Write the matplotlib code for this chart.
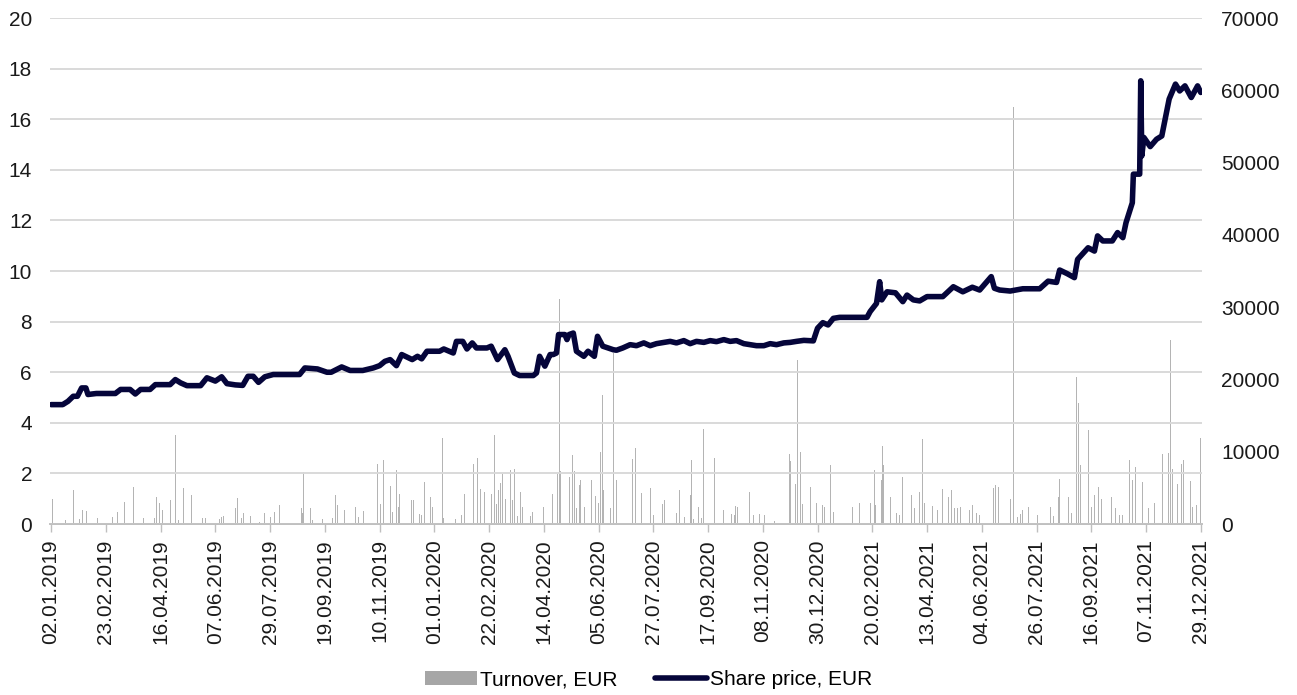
import matplotlib
matplotlib.use("Agg")
import matplotlib.pyplot as plt
import matplotlib.dates as mdates
import pandas as pd

plt.rcParams['font.family'] = ['Liberation Sans', 'DejaVu Sans']

start = pd.Timestamp('2019-01-02')

# share price, EUR (days after 02.01.2019, value)
price_days = [0, 11, 16, 21, 25, 29, 33, 35, 43, 61, 66, 75, 80, 85, 94, 99, 113, 118, 123, 129,
              142, 148, 156, 162, 167, 175, 182, 187, 192, 197, 203, 211, 236, 241, 253, 262, 266,
              276, 284, 296, 306, 312, 317, 322, 328, 333, 343, 348, 352, 357, 369, 373, 382, 385,
              391, 395, 400, 404, 414, 418, 424, 431, 434, 440, 445, 458, 461, 464, 469, 474, 477,
              480, 482, 488, 490, 492, 496, 499, 506, 510, 516, 519, 524, 534, 537, 543, 550, 556,
              563, 569, 575, 582, 588, 594, 601, 607, 613, 620, 626, 632, 639, 645, 651, 658, 664,
              670, 677, 683, 689, 696, 702, 708, 715, 724, 728, 733, 738, 743, 749, 775, 778, 784,
              787, 789, 794, 802, 809, 813, 819, 825, 832, 847, 857, 866, 875, 882, 893, 896, 901,
              911, 923, 939, 947, 955, 958, 965, 972, 975, 985, 991, 994, 999, 1008, 1013, 1018,
              1021, 1027, 1028, 1034, 1035, 1036, 1038, 1044, 1050, 1055, 1062, 1066, 1068, 1072,
              1077, 1083, 1089, 1092]
price = [4.72, 4.72, 4.85, 5.05, 5.05, 5.38, 5.38, 5.12, 5.16, 5.16, 5.32, 5.32, 5.14, 5.32, 5.32,
         5.51, 5.51, 5.71, 5.58, 5.47, 5.47, 5.78, 5.65, 5.82, 5.55, 5.50, 5.48, 5.84, 5.84, 5.60,
         5.82, 5.91, 5.91, 6.17, 6.13, 6.00, 6.00, 6.21, 6.07, 6.07, 6.17, 6.26, 6.43, 6.50, 6.26,
         6.70, 6.50, 6.63, 6.53, 6.83, 6.83, 6.92, 6.76, 7.22, 7.22, 6.92, 7.16, 6.96, 6.96, 7.03,
         6.50, 6.89, 6.63, 5.97, 5.87, 5.87, 5.97, 6.63, 6.24, 6.70, 6.70, 6.76, 7.49, 7.49, 7.29,
         7.49, 7.55, 6.83, 6.63, 6.83, 6.63, 7.42, 7.03, 6.89, 6.87, 6.96, 7.09, 7.05, 7.16, 7.05,
         7.13, 7.18, 7.22, 7.16, 7.25, 7.13, 7.22, 7.18, 7.25, 7.21, 7.29, 7.22, 7.25, 7.13, 7.09,
         7.05, 7.05, 7.13, 7.09, 7.16, 7.18, 7.22, 7.26, 7.24, 7.74, 7.96, 7.87, 8.13, 8.17, 8.17,
         8.40, 8.72, 9.58, 8.86, 9.18, 9.14, 8.79, 9.05, 8.86, 8.82, 8.99, 8.99, 9.38, 9.18, 9.36,
         9.25, 9.78, 9.32, 9.25, 9.21, 9.30, 9.30, 9.60, 9.55, 10.04, 9.90, 9.74, 10.46, 10.92,
         10.79, 11.39, 11.19, 11.19, 11.52, 11.32, 11.91, 12.70, 13.83, 13.83, 17.52, 14.55, 15.28,
         14.92, 15.21, 15.34, 16.80, 17.19, 17.39, 17.12, 17.32, 16.86, 17.32, 17.06]

# turnover, EUR (days after 02.01.2019, value)
turn_days = [1, 14, 21, 27, 30, 34, 36, 44, 58, 63, 70, 75, 78, 88, 93, 98, 100, 103, 106, 113,
             118, 121, 126, 129, 133, 144, 147, 149, 160, 162, 164, 169, 175, 177, 181, 183, 189,
             198, 203, 205, 208, 212, 217, 224, 226, 238, 239, 240, 246, 248, 258, 267, 270, 272,
             279, 289, 292, 297, 300, 310, 313, 316, 320, 322, 324, 328, 330, 331, 342, 344, 350,
             352, 355, 360, 362, 372, 373, 377, 384, 390, 393, 397, 401, 405, 408, 412, 418, 421,
             423, 425, 427, 429, 432, 434, 436, 438, 440, 443, 446, 448, 455, 457, 468, 476, 481,
             483, 484, 490, 492, 495, 497, 499, 502, 503, 507, 513, 517, 520, 522, 524, 525, 531,
             534, 537, 546, 548, 552, 555, 561, 565, 566, 569, 572, 581, 583, 594, 597, 602, 607,
             608, 610, 615, 618, 620, 623, 630, 639, 646, 649, 650, 652, 663, 667, 673, 678, 681,
             687, 699, 701, 702, 707, 709, 712, 714, 719, 721, 727, 733, 735, 736, 740, 743, 756,
             761, 768, 776, 778, 782, 783, 789, 790, 791, 797, 803, 806, 809, 812, 817, 820, 825,
             828, 830, 833, 837, 842, 847, 851, 852, 855, 858, 861, 864, 868, 872, 875, 879, 882,
             887, 889, 895, 897, 900, 908, 911, 914, 918, 921, 923, 926, 928, 937, 944, 946, 949,
             952, 957, 958, 966, 969, 974, 976, 978, 985, 988, 991, 995, 998, 1001, 1007, 1011,
             1015, 1018, 1020, 1024, 1027, 1030, 1037, 1042, 1048, 1056, 1058, 1061, 1063, 1065,
             1070, 1074, 1076, 1082, 1084, 1088, 1092]
turnover = [3430, 560, 4640, 700, 1950, 1850, 1600, 880, 1020, 1710, 3100, 3520, 5100, 880, 2130,
            800, 3800, 2870, 1950, 3340, 12290, 560, 4960, 1480, 4030, 880, 900, 6030, 700, 1030,
            1160, 2180, 2180, 3570, 800, 1480, 1110, 330, 1480, 7050, 1030, 1710, 2640, 3340,
            3340, 2180, 1580, 7140, 2270, 560, 700, 900, 4030, 2640, 1950, 2410, 1020, 1800, 460,
            8300, 2740, 8900, 8530, 5290, 1720, 7510, 2320, 4170, 3340, 3340, 1390, 1250, 5750,
            3710, 2410, 11900, 790, 3010, 700, 1250, 4170, 1250, 8340, 9130, 4820, 4500, 4130,
            12380, 2740, 4730, 5650, 6950, 3430, 5750, 7420, 3340, 7600, 1110, 4500, 2320, 1110,
            1710, 2320, 4170, 6950, 31200, 7280, 5420, 6490, 9600, 7370, 2180, 5420, 6120, 2410,
            6030, 3890, 2970, 9920, 17840, 4730, 2180, 23600, 6030, 7880, 8760, 8990, 10520, 4270,
            7830, 1350, 4960, 1250, 2780, 3340, 1480, 4640, 1020, 4030, 8810, 650, 2320, 790,
            13170, 1480, 9130, 1950, 1390, 1250, 2500, 2320, 4500, 1250, 1390, 1250, 7190, 460,
            6440, 9690, 8670, 5560, 22700, 9970, 2780, 2640, 5100, 2970, 2640, 2410, 2780, 8210,
            1720, 3570, 2320, 2970, 2640, 2970, 7420, 2640, 6030, 10850, 8210, 3800, 1480, 1250,
            6440, 2640, 4030, 2270, 4500, 11780, 2970, 1250, 2500, 1950, 4820, 6260, 3800, 4640,
            2270, 2180, 2410, 1480, 1950, 2640, 1480, 1250, 2180, 1390, 4960, 5420, 5100, 2410,
            3480, 57700, 1020, 1390, 1950, 2040, 2320, 1250, 2270, 6950, 2320, 1110, 3710, 6260,
            3800, 1480, 20400, 16700, 8110, 13070, 2410, 4030, 5190, 3430, 2970, 3800, 2180, 1250,
            1250, 4170, 8810, 6120, 7880, 5750, 2180, 2970, 9740, 7420, 9830, 25400, 7600, 5560,
            8340, 8900, 5890, 2320, 2640, 11910]

price_dates = start + pd.to_timedelta(price_days, unit='D')
turn_dates = start + pd.to_timedelta(turn_days, unit='D')
tick_dates = pd.date_range('2019-01-02', '2021-12-29', freq='52D')

fig = plt.figure(figsize=(12.97, 6.95), dpi=100)
ax = fig.add_axes([0.0386, 0.246, 0.888, 0.728])
ax2 = ax.twinx()

# turnover bars on the right axis, behind the price line
ax2.bar(turn_dates, turnover, width=0.8, color='#b4b4b4', linewidth=0, label='Turnover, EUR')
ax.set_zorder(ax2.get_zorder() + 1)
ax.patch.set_visible(False)

ax.plot(price_dates, price, color='#05053a', linewidth=4.0, solid_joinstyle='round',
        solid_capstyle='round', label='Share price, EUR')

ax.set_ylim(0, 20)
ax.set_yticks(range(0, 21, 2))
ax2.set_ylim(0, 70000)
ax2.set_yticks(range(0, 70001, 10000))
ax.set_xlim(start - pd.Timedelta(days=1), pd.Timestamp('2021-12-29') + pd.Timedelta(days=1))

ax.set_xticks(tick_dates)
ax.xaxis.set_major_formatter(mdates.DateFormatter('%d.%m.%Y'))
ax.tick_params(axis='x', rotation=90, labelsize=15, length=6, width=1, color='#bfbfbf',
               pad=5, labelcolor='#1a1a1a')
ax.tick_params(axis='y', length=0, labelsize=15, pad=13, labelcolor='#1a1a1a')
ax2.tick_params(axis='y', length=0, labelsize=15, pad=14, labelcolor='#1a1a1a')

ax.grid(axis='y', color='#d9d9d9', linewidth=1.4)
for a in (ax, ax2):
    for side in ('top', 'left', 'right'):
        a.spines[side].set_visible(False)
    a.spines['bottom'].set_color('#bfbfbf')
    a.spines['bottom'].set_linewidth(1.2)

h1, l1 = ax2.get_legend_handles_labels()
h2, l2 = ax.get_legend_handles_labels()
leg = fig.legend(h1 + h2, l1 + l2, loc='center', bbox_to_anchor=(0.5, 0.022), ncol=2,
                 frameon=False, fontsize=15, handlelength=2.5, handletextpad=0.15,
                 columnspacing=1.8)
leg.legend_handles[0].set_color('#a6a6a6')

fig.savefig('out.png', dpi=100)
